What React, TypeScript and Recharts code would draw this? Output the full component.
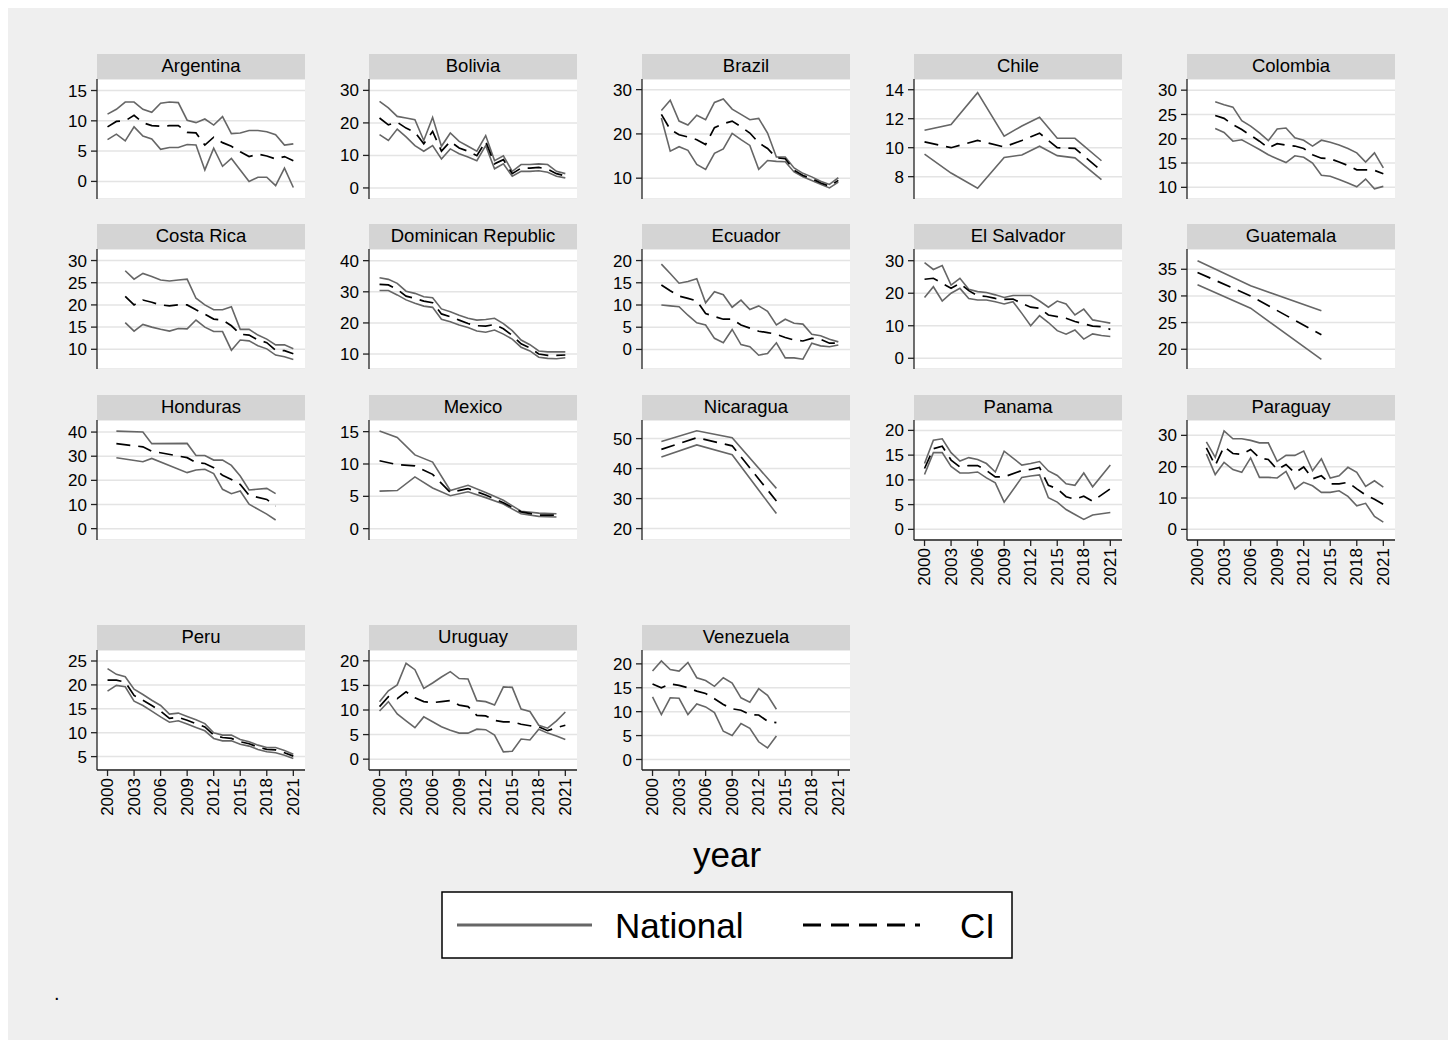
import { LineChart, Line, XAxis, YAxis, CartesianGrid } from 'recharts';

const FONT = '"Liberation Sans", Arial, Helvetica, sans-serif';

// year lists
const YEARS_00_21 = [2000, 2001, 2002, 2003, 2004, 2005, 2006, 2007, 2008, 2009, 2010, 2011, 2012, 2013, 2014, 2015, 2016, 2017, 2018, 2019, 2020, 2021];
const YEARS_01_21 = [2001, 2002, 2003, 2004, 2005, 2006, 2007, 2008, 2009, 2010, 2011, 2012, 2013, 2014, 2015, 2016, 2017, 2018, 2019, 2020, 2021];
const YEARS_02_21 = [2002, 2003, 2004, 2005, 2006, 2007, 2008, 2009, 2010, 2011, 2012, 2013, 2014, 2015, 2016, 2017, 2018, 2019, 2020, 2021];
const YEARS_00_14 = [2000, 2001, 2002, 2003, 2004, 2005, 2006, 2007, 2008, 2009, 2010, 2011, 2012, 2013, 2014];
const YEAR_TICKS = [2000, 2003, 2006, 2009, 2012, 2015, 2018, 2021];

// Argentina
const argHi = [11.1, 11.9, 13.1, 13.1, 11.9, 11.4, 12.9, 13.1, 13.0, 10.1, 9.7, 10.3, 9.3, 10.7, 7.9, 8.0, 8.4, 8.4, 8.2, 7.7, 6.0, 6.2];
const argMid = [9.0, 9.9, 10.0, 10.9, 9.7, 9.2, 9.1, 9.2, 9.2, 8.1, 8.0, 6.0, 7.3, 6.4, 5.8, 4.9, 4.1, 4.5, 4.2, 3.7, 4.1, 3.4];
const argLo = [6.9, 7.8, 6.7, 9.0, 7.5, 7.0, 5.3, 5.6, 5.6, 6.1, 6.0, 1.9, 5.5, 2.5, 3.8, 1.9, 0.0, 0.7, 0.7, -0.7, 2.2, -1.0];

// Bolivia
const bolHi = [26.6, 24.6, 22.0, 21.5, 21.0, 14.6, 21.7, 12.8, 16.9, 14.3, 12.8, 11.3, 16.1, 8.4, 9.9, 5.1, 7.2, 7.2, 7.4, 7.2, 5.1, 4.4];
const bolMid = [21.5, 19.4, 20.2, 18.4, 17.1, 13.6, 17.4, 11.3, 14.3, 12.3, 11.3, 9.9, 14.3, 7.4, 8.7, 4.4, 6.1, 6.1, 6.3, 5.8, 4.4, 3.7];
const bolLo = [16.4, 14.6, 18.1, 15.7, 13.0, 11.3, 13.0, 8.9, 12.0, 10.5, 9.5, 8.4, 13.0, 5.9, 7.4, 3.6, 5.1, 5.1, 5.3, 4.8, 3.6, 3.1];

// Brazil
const braHi = [25.3, 27.6, 22.9, 22.0, 24.2, 23.2, 27.1, 27.9, 25.6, 24.4, 23.2, 23.5, 20.2, 14.8, 14.8, 12.3, 11.1, 10.3, 9.3, 8.6, 10.1];
const braMid = [24.4, 21.0, 19.8, 19.3, 18.7, 17.6, 21.4, 22.3, 22.9, 21.6, 20.2, 18.0, 16.7, 14.6, 14.4, 11.8, 10.6, 9.9, 8.9, 8.2, 9.5];
const braLo = [23.6, 16.1, 17.1, 16.3, 13.1, 12.0, 15.6, 16.6, 20.1, 18.7, 17.4, 12.0, 14.0, 13.8, 13.7, 11.4, 10.3, 9.5, 8.6, 7.8, 9.1];

// Chile
const chlYears = [2000, 2003, 2006, 2009, 2011, 2013, 2015, 2017, 2020];
const chlHi = [11.2, 11.6, 13.8, 10.8, 11.5, 12.1, 10.65, 10.65, 9.1];
const chlMid = [10.4, 10.0, 10.5, 10.05, 10.5, 11.0, 10.0, 9.95, 8.4];
const chlLo = [9.56, 8.25, 7.2, 9.33, 9.5, 10.1, 9.45, 9.3, 7.8];

// Colombia
const colHi = [27.6, 27.0, 26.5, 23.7, 22.6, 21.2, 19.6, 22.0, 22.2, 20.2, 19.7, 18.5, 19.7, 19.3, 18.7, 18.0, 17.1, 15.2, 17.1, 14.0];
const colMid = [24.8, 24.2, 22.9, 21.9, 20.7, 19.5, 18.1, 19.0, 18.7, 18.5, 18.0, 16.7, 16.0, 15.9, 15.2, 14.5, 13.6, 13.6, 13.5, 12.8];
const colLo = [22.1, 21.3, 19.5, 19.8, 18.8, 17.8, 16.7, 15.9, 15.1, 16.5, 16.2, 15.0, 12.5, 12.3, 11.6, 10.9, 10.1, 11.7, 9.7, 10.2];

// Costa Rica
const criHi = [27.7, 25.8, 27.1, 26.4, 25.6, 25.4, 25.6, 25.8, 21.5, 20.0, 18.9, 18.9, 19.6, 14.5, 14.5, 13.2, 12.3, 11.0, 11.0, 10.1];
const criMid = [21.9, 20.0, 21.1, 20.6, 20.0, 19.8, 20.0, 20.0, 18.9, 17.9, 16.8, 16.6, 15.3, 13.4, 13.2, 12.1, 11.5, 9.8, 9.7, 9.0];
const criLo = [16.0, 14.1, 15.6, 15.0, 14.5, 14.1, 14.7, 14.6, 16.6, 15.0, 14.0, 14.0, 9.8, 12.1, 11.9, 10.8, 10.1, 8.7, 8.3, 7.7];

// Dominican Republic
const domHi = [34.5, 34.0, 32.7, 30.2, 29.5, 28.4, 28.1, 24.5, 23.6, 22.5, 21.5, 20.9, 21.1, 21.5, 19.8, 17.5, 14.5, 13.0, 11.0, 10.7, 10.7, 10.7];
const domMid = [32.4, 32.2, 30.8, 28.6, 27.9, 27.0, 26.5, 22.9, 22.0, 20.9, 19.8, 19.1, 19.0, 19.5, 18.1, 16.0, 13.3, 12.0, 10.0, 9.6, 9.6, 9.7];
const domLo = [30.4, 30.4, 29.0, 27.4, 26.3, 25.4, 25.0, 21.2, 20.4, 19.3, 18.5, 17.4, 17.0, 17.7, 16.4, 14.8, 12.2, 11.0, 9.0, 8.6, 8.5, 8.8];

// Ecuador
const ecuHi = [19.2, 17.1, 14.9, 15.3, 15.9, 10.5, 13.0, 12.3, 9.5, 11.1, 9.0, 9.8, 8.6, 5.5, 6.8, 5.9, 5.7, 3.4, 3.1, 2.3, 1.7];
const ecuMid = [14.5, 13.2, 12.0, 11.5, 10.9, 8.1, 7.4, 6.8, 6.8, 5.5, 4.8, 4.1, 3.8, 3.4, 2.7, 2.1, 1.9, 2.5, 2.3, 1.4, 1.4];
const ecuLo = [10.0, 9.8, 9.6, 7.7, 6.0, 5.5, 2.5, 1.5, 4.5, 1.1, 0.6, -1.3, -0.9, 1.5, -1.9, -1.9, -2.2, 1.4, 0.8, 0.6, 1.0];

// El Salvador
const slvHi = [29.4, 27.3, 28.5, 22.5, 24.6, 21.2, 20.5, 20.2, 19.5, 18.7, 19.3, 19.3, 19.3, 17.6, 15.7, 17.6, 16.7, 13.3, 15.1, 11.8, 11.3, 10.8];
const slvMid = [24.3, 24.6, 23.0, 21.5, 23.0, 20.8, 19.2, 19.0, 18.4, 18.1, 18.2, 16.9, 15.7, 15.4, 13.3, 12.8, 12.3, 11.3, 10.6, 9.9, 9.7, 8.9];
const slvLo = [18.7, 22.0, 17.6, 20.0, 21.5, 18.4, 17.9, 17.9, 17.4, 16.7, 17.4, 13.8, 10.0, 13.1, 11.0, 8.5, 7.4, 8.7, 5.9, 7.5, 7.0, 6.7];

// Guatemala
const gtmYears = [2000, 2006, 2014];
const gtmHi = [36.6, 31.9, 27.2];
const gtmMid = [34.4, 30.0, 22.7];
const gtmLo = [32.1, 27.7, 18.1];

// Honduras
const hndYears = [2001, 2004, 2005, 2009, 2010, 2011, 2012, 2013, 2014, 2015, 2016, 2018, 2019];
const hndHi = [40.4, 40.0, 35.2, 35.3, 30.3, 30.3, 28.4, 28.4, 26.2, 21.8, 16.0, 16.7, 14.5];
const hndMid = [35.2, 33.9, 32.1, 29.4, 27.3, 27.0, 25.2, 22.1, 20.4, 18.3, 13.8, 12.1, 9.4];
const hndLo = [29.4, 27.7, 29.1, 23.2, 24.3, 24.6, 22.8, 16.3, 14.5, 15.6, 10.1, 6.0, 3.6];

// Mexico
const mexYears = [2000, 2002, 2004, 2006, 2008, 2010, 2012, 2014, 2016, 2018, 2020];
const mexHi = [15.1, 14.1, 11.4, 10.3, 5.9, 6.7, 5.6, 4.4, 2.7, 2.4, 2.3];
const mexMid = [10.5, 9.9, 9.7, 8.4, 5.6, 6.2, 5.2, 4.0, 2.6, 2.1, 2.1];
const mexLo = [5.8, 5.9, 8.0, 6.3, 5.1, 5.7, 4.8, 3.8, 2.3, 1.9, 1.8];

// Nicaragua
const nicYears = [2001, 2005, 2009, 2014];
const nicHi = [49.0, 52.6, 50.3, 33.4];
const nicMid = [46.4, 50.3, 47.6, 29.2];
const nicLo = [43.9, 47.9, 44.6, 25.0];

// Panama
const panYears = [2000, 2001, 2002, 2003, 2004, 2005, 2006, 2007, 2008, 2009, 2011, 2012, 2013, 2014, 2015, 2016, 2017, 2018, 2019, 2021];
const panHi = [13.3, 18.0, 18.3, 15.5, 13.8, 14.5, 14.1, 13.3, 11.6, 15.8, 13.0, 13.3, 13.7, 11.8, 10.9, 9.2, 8.9, 11.4, 8.6, 13.0];
const panMid = [12.3, 16.3, 16.8, 14.0, 12.6, 12.9, 12.9, 11.9, 10.6, 10.6, 11.9, 12.1, 12.5, 8.9, 8.2, 6.6, 6.1, 6.7, 5.7, 8.2];
const panLo = [11.1, 15.5, 15.5, 12.7, 11.4, 11.4, 11.6, 10.4, 9.4, 5.5, 10.5, 10.8, 11.0, 6.4, 5.5, 4.0, 3.0, 2.0, 2.9, 3.4];

// Paraguay
const pryHi = [27.9, 23.0, 31.4, 28.9, 28.9, 28.4, 27.6, 27.6, 21.7, 23.6, 23.6, 25.0, 18.7, 22.5, 16.4, 17.1, 19.8, 18.2, 13.7, 15.5, 13.5];
const pryMid = [26.0, 20.4, 26.4, 24.2, 23.9, 25.5, 22.8, 22.3, 19.1, 20.7, 18.0, 19.9, 16.1, 17.1, 14.5, 14.5, 15.0, 12.9, 11.0, 9.6, 8.0];
const pryLo = [24.1, 17.5, 21.4, 19.1, 18.2, 22.8, 16.6, 16.6, 16.4, 18.5, 12.9, 15.0, 13.9, 11.8, 11.8, 12.3, 10.5, 7.5, 8.3, 4.1, 2.3];

// Peru
const perHi = [23.4, 22.2, 21.7, 19.1, 18.0, 16.8, 15.7, 13.9, 14.1, 13.4, 12.7, 11.9, 10.0, 9.5, 9.5, 8.6, 8.1, 7.4, 6.9, 6.9, 6.3, 5.5];
const perMid = [21.0, 21.0, 20.6, 17.8, 16.8, 15.7, 14.5, 13.0, 13.2, 12.6, 11.9, 11.2, 9.5, 9.0, 8.8, 8.1, 7.7, 7.0, 6.5, 6.4, 5.8, 5.1];
const perLo = [18.7, 19.9, 19.6, 16.6, 15.7, 14.5, 13.3, 12.2, 12.5, 11.8, 11.1, 10.4, 8.8, 8.3, 8.3, 7.6, 7.2, 6.5, 6.0, 5.8, 5.3, 4.6];

// Uruguay
const uryHi = [11.7, 13.9, 15.1, 19.5, 18.2, 14.4, 15.5, 16.7, 17.8, 16.4, 16.3, 11.9, 11.7, 11.0, 14.7, 14.6, 10.2, 9.7, 6.9, 6.3, 7.8, 9.6];
const uryMid = [10.7, 12.7, 12.3, 13.7, 12.5, 11.7, 11.5, 11.7, 11.9, 11.0, 10.7, 8.9, 8.8, 7.9, 7.6, 7.6, 7.1, 6.8, 6.6, 5.8, 6.4, 6.9];
const uryLo = [9.8, 11.7, 9.2, 7.8, 6.4, 8.6, 7.6, 6.6, 5.9, 5.3, 5.3, 6.1, 6.0, 4.9, 1.5, 1.6, 4.1, 3.9, 6.1, 5.3, 4.7, 4.0];

// Venezuela
const venHi = [18.5, 20.6, 18.8, 18.5, 20.3, 17.1, 16.5, 15.3, 17.1, 16.0, 12.9, 12.0, 14.8, 13.4, 10.5];
const venMid = [15.8, 15.0, 15.8, 15.5, 15.0, 14.3, 13.8, 12.7, 11.5, 10.6, 10.3, 9.4, 9.3, 8.0, 7.7];
const venLo = [13.1, 9.4, 12.9, 12.8, 9.4, 11.6, 11.0, 9.8, 5.9, 5.0, 7.5, 6.5, 3.7, 2.4, 4.9];

type PanelSpec = {
  name: string;
  years: number[];
  hi: number[];
  mid: number[];
  lo: number[];
  yTicks: number[];
  yDomain: [number, number];
  col: number;
  row: number;
  xAxis?: boolean;
};

const PANELS: PanelSpec[] = [
  { name: 'Argentina', years: YEARS_00_21, hi: argHi, mid: argMid, lo: argLo, yTicks: [0, 5, 10, 15], yDomain: [-2.9, 16.9], col: 0, row: 0 },
  { name: 'Bolivia', years: YEARS_00_21, hi: bolHi, mid: bolMid, lo: bolLo, yTicks: [0, 10, 20, 30], yDomain: [-3.4, 33.5], col: 1, row: 0 },
  { name: 'Brazil', years: YEARS_01_21, hi: braHi, mid: braMid, lo: braLo, yTicks: [10, 20, 30], yDomain: [5.3, 32.4], col: 2, row: 0 },
  { name: 'Chile', years: chlYears, hi: chlHi, mid: chlMid, lo: chlLo, yTicks: [8, 10, 12, 14], yDomain: [6.46, 14.74], col: 3, row: 0 },
  { name: 'Colombia', years: YEARS_02_21, hi: colHi, mid: colMid, lo: colLo, yTicks: [10, 15, 20, 25, 30], yDomain: [7.6, 32.3], col: 4, row: 0 },
  { name: 'Costa Rica', years: YEARS_02_21, hi: criHi, mid: criMid, lo: criLo, yTicks: [10, 15, 20, 25, 30], yDomain: [5.56, 32.6], col: 0, row: 1 },
  { name: 'Dominican Republic', years: YEARS_00_21, hi: domHi, mid: domMid, lo: domLo, yTicks: [10, 20, 30, 40], yDomain: [5.2, 43.75], col: 1, row: 1 },
  { name: 'Ecuador', years: YEARS_01_21, hi: ecuHi, mid: ecuMid, lo: ecuLo, yTicks: [0, 5, 10, 15, 20], yDomain: [-4.4, 22.6], col: 2, row: 1 },
  { name: 'El Salvador', years: YEARS_00_21, hi: slvHi, mid: slvMid, lo: slvLo, yTicks: [0, 10, 20, 30], yDomain: [-3.3, 33.6], col: 3, row: 1 },
  { name: 'Guatemala', years: gtmYears, hi: gtmHi, mid: gtmMid, lo: gtmLo, yTicks: [20, 25, 30, 35], yDomain: [16.3, 38.8], col: 4, row: 1 },
  { name: 'Honduras', years: hndYears, hi: hndHi, mid: hndMid, lo: hndLo, yTicks: [0, 10, 20, 30, 40], yDomain: [-4.7, 45.0], col: 0, row: 2 },
  { name: 'Mexico', years: mexYears, hi: mexHi, mid: mexMid, lo: mexLo, yTicks: [0, 5, 10, 15], yDomain: [-1.75, 16.8], col: 1, row: 2 },
  { name: 'Nicaragua', years: nicYears, hi: nicHi, mid: nicMid, lo: nicLo, yTicks: [20, 30, 40, 50], yDomain: [16.2, 56.2], col: 2, row: 2 },
  { name: 'Panama', years: panYears, hi: panHi, mid: panMid, lo: panLo, yTicks: [0, 5, 10, 15, 20], yDomain: [-2.15, 22.1], col: 3, row: 2, xAxis: true },
  { name: 'Paraguay', years: YEARS_01_21, hi: pryHi, mid: pryMid, lo: pryLo, yTicks: [0, 10, 20, 30], yDomain: [-3.4, 34.9], col: 4, row: 2, xAxis: true },
  { name: 'Peru', years: YEARS_00_21, hi: perHi, mid: perMid, lo: perLo, yTicks: [5, 10, 15, 20, 25], yDomain: [2.2, 27.3], col: 0, row: 3, xAxis: true },
  { name: 'Uruguay', years: YEARS_00_21, hi: uryHi, mid: uryMid, lo: uryLo, yTicks: [0, 5, 10, 15, 20], yDomain: [-2.2, 22.2], col: 1, row: 3, xAxis: true },
  { name: 'Venezuela', years: YEARS_00_14, hi: venHi, mid: venMid, lo: venLo, yTicks: [0, 5, 10, 15, 20], yDomain: [-2.2, 22.9], col: 2, row: 3, xAxis: true },
];

// layout (page px; the frame starts at the 8px body margin)
const COL_LEFT = [97, 369, 642, 914, 1187];
const ROW_TOP = [54, 224, 395, 625];
const PLOT_W = 208;
const PLOT_H = 120;
const STRIP_H = 25;
const AXIS_W = 50;
const X_AXIS_H = 56;
const X_DOMAIN: [number, number] = [1998.81, 2022.32];

const BAND_COLOR = '#666666';
const AXIS_COLOR = '#222222';

function YearTick(props: any) {
  const { x, y, payload } = props;
  return (
    <text
      x={x}
      y={y}
      transform={`rotate(-90, ${x}, ${y})`}
      textAnchor="end"
      dominantBaseline="central"
      fontSize={17}
      fontFamily={FONT}
      fill="#000"
    >
      {payload.value}
    </text>
  );
}

function Panel({ spec }: { spec: PanelSpec }) {
  const data = spec.years.map((year, i) => ({
    year,
    hi: spec.hi[i],
    mid: spec.mid[i],
    lo: spec.lo[i],
  }));
  const left = COL_LEFT[spec.col] - 8;
  const top = ROW_TOP[spec.row] - 8;
  const height = PLOT_H + (spec.xAxis ? X_AXIS_H : 0);

  return (
    <>
      <div
        style={{
          position: 'absolute',
          left,
          top,
          width: PLOT_W,
          height: STRIP_H,
          background: '#d4d4d4',
          fontFamily: FONT,
          fontSize: 18.5,
          lineHeight: `${STRIP_H - 2}px`,
          textAlign: 'center',
          color: '#000',
        }}
      >
        {spec.name}
      </div>
      <div style={{ position: 'absolute', left: left - AXIS_W, top: top + STRIP_H }}>
        <LineChart
          width={AXIS_W + PLOT_W}
          height={height}
          data={data}
          margin={{ top: 0, right: 0, bottom: 0, left: 0 }}
        >
          <CartesianGrid
            vertical={false}
            stroke="#e4e4e4"
            strokeWidth={1.5}
            fill="#ffffff"
            fillOpacity={1}
          />
          <XAxis
            type="number"
            dataKey="year"
            domain={X_DOMAIN}
            allowDataOverflow
            ticks={YEAR_TICKS}
            interval={0}
            hide={!spec.xAxis}
            height={X_AXIS_H}
            tick={<YearTick />}
            tickSize={6}
            tickMargin={2}
            axisLine={{ stroke: AXIS_COLOR, strokeWidth: 1.3 }}
            tickLine={{ stroke: AXIS_COLOR, strokeWidth: 1.3 }}
          />
          <YAxis
            type="number"
            domain={spec.yDomain}
            allowDataOverflow
            ticks={spec.yTicks}
            interval={0}
            width={AXIS_W}
            tickSize={6}
            tickMargin={4}
            tick={{ fontSize: 17, fill: '#000', fontFamily: FONT }}
            axisLine={{ stroke: AXIS_COLOR, strokeWidth: 1.3 }}
            tickLine={{ stroke: AXIS_COLOR, strokeWidth: 1.3 }}
          />
          <Line dataKey="hi" stroke={BAND_COLOR} strokeWidth={1.6} dot={false} isAnimationActive={false} />
          <Line dataKey="lo" stroke={BAND_COLOR} strokeWidth={1.6} dot={false} isAnimationActive={false} />
          <Line
            dataKey="mid"
            stroke="#000"
            strokeWidth={1.7}
            strokeDasharray="14 8"
            dot={false}
            isAnimationActive={false}
          />
        </LineChart>
      </div>
    </>
  );
}

export default function App() {
  return (
    <div
      style={{
        position: 'relative',
        width: 1440,
        height: 1032,
        background: '#efefef',
        fontFamily: FONT,
        overflow: 'hidden',
      }}
    >
      {PANELS.map((p) => (
        <Panel key={p.name} spec={p} />
      ))}
      <svg
        width={1440}
        height={1032}
        style={{ position: 'absolute', left: 0, top: 0, pointerEvents: 'none' }}
      >
        <text x={719} y={859} textAnchor="middle" fontSize={35} fontFamily={FONT} fill="#000">
          year
        </text>
        <rect x={434} y={884} width={570} height={66} fill="#fff" stroke="#000" strokeWidth={1.5} />
        <line x1={449} x2={584} y1={917} y2={917} stroke={BAND_COLOR} strokeWidth={3} />
        <text x={607} y={930} fontSize={35} fontFamily={FONT} fill="#000">
          National
        </text>
        <line x1={795} x2={912} y1={917} y2={917} stroke="#000" strokeWidth={3} strokeDasharray="18 10" />
        <text x={952} y={930} fontSize={35} fontFamily={FONT} fill="#000">
          CI
        </text>
        <text x={46} y={992} fontSize={20} fontFamily={FONT} fill="#000">
          .
        </text>
      </svg>
    </div>
  );
}
